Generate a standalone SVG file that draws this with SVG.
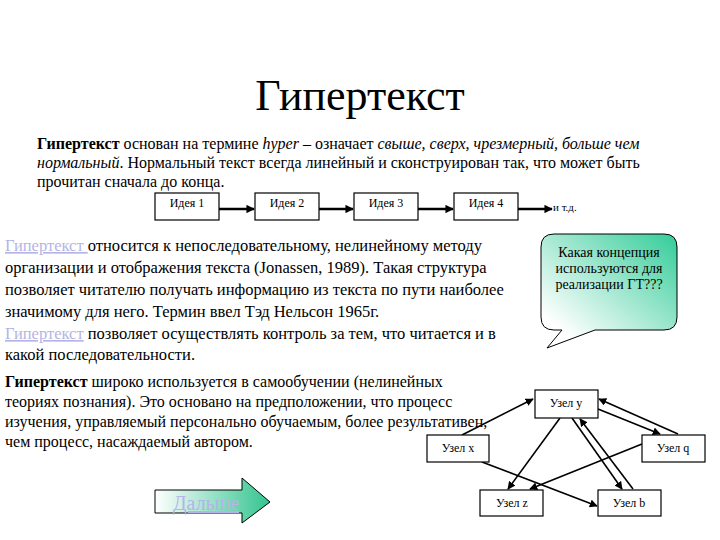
<svg xmlns="http://www.w3.org/2000/svg" width="720" height="540" viewBox="0 0 720 540">
<style>
text{font-family:"Liberation Serif","Times New Roman",serif;fill:#000}
.p{font-size:16px}
.p2{font-size:16.5px}
.lnk{fill:#b4b4e6;text-decoration:underline}
.box{fill:#fff;stroke:#000;stroke-width:1.2}
.lbl{font-size:12px;text-anchor:middle}
.con{stroke:#000;stroke-width:1.6;fill:none;marker-end:url(#ah)}
.con2{stroke:#000;stroke-width:2.4;fill:none;marker-end:url(#ah2)}
</style>
<defs>
<marker id="ah" viewBox="0 0 10 10" refX="9" refY="5" markerWidth="5" markerHeight="5" orient="auto" markerUnits="strokeWidth"><path d="M0,0L10,5L0,10z" fill="#000"/></marker>
<marker id="ah2" viewBox="0 0 10 10" refX="9" refY="5" markerWidth="3.5" markerHeight="3.5" orient="auto" markerUnits="strokeWidth"><path d="M0,0L10,5L0,10z" fill="#000"/></marker>
<linearGradient id="gcall" x1="0" y1="1" x2="1" y2="0">
<stop offset="0.15" stop-color="#ffffff"/><stop offset="1" stop-color="#33cc99"/>
</linearGradient>
<linearGradient id="garr" x1="0" y1="0" x2="1" y2="0">
<stop offset="0" stop-color="#ffffff"/><stop offset="1" stop-color="#33c48f"/>
</linearGradient>
</defs>

<text x="360" y="110" font-size="44" text-anchor="middle">Гипертекст</text>

<g id="para1">
<text x="37" y="149" class="p"><tspan font-weight="bold">Гипертекст</tspan> основан на термине <tspan font-style="italic">hyper</tspan> – означает <tspan font-style="italic">свыше, сверх, чрезмерный, больше чем</tspan></text>
<text x="37" y="168" class="p"><tspan font-style="italic">нормальный</tspan>. Нормальный текст всегда линейный и сконструирован так, что может быть</text>
<text x="37" y="187" class="p">прочитан сначала до конца.</text>
</g>

<g id="idea1"><rect class="box" x="155" y="193" width="64" height="27"/><text class="lbl" x="187" y="207">Идея 1</text></g>
<g id="idea2"><rect class="box" x="255" y="193" width="64" height="27"/><text class="lbl" x="287" y="207">Идея 2</text></g>
<g id="idea3"><rect class="box" x="354" y="193" width="64" height="27"/><text class="lbl" x="386" y="207">Идея 3</text></g>
<g id="idea4"><rect class="box" x="454" y="193" width="64" height="27"/><text class="lbl" x="486" y="207">Идея 4</text></g>
<g id="etc"><text x="553" y="211" font-size="11">и т.д.</text></g>

<g id="para2">
<text x="5" y="251" class="p2"><tspan class="lnk">Гипертекст </tspan>относится к непоследовательному, нелинейному методу</text>
<text x="5" y="273" class="p2">организации и отображения текста (Jonassen, 1989). Такая структура</text>
<text x="5" y="295" class="p2">позволяет читателю получать информацию из текста по пути наиболее</text>
<text x="5" y="317" class="p2">значимому для него. Термин ввел Тэд Нельсон 1965г.</text>
</g>

<g id="para3">
<text x="5" y="339" class="p2"><tspan class="lnk">Гипертекст</tspan> позволяет осуществлять контроль за тем, что читается и в</text>
<text x="5" y="360" class="p2">какой последовательности.</text>
</g>

<g id="para4">
<text x="5" y="387" class="p"><tspan font-weight="bold">Гипертекст</tspan> широко используется в  самообучении (нелинейных</text>
<text x="5" y="407" class="p">теориях  познания). Это основано на предположении, что процесс</text>
<text x="5" y="427" class="p">изучения, управляемый персонально обучаемым, более результативен,</text>
<text x="5" y="447" class="p">чем процесс, насаждаемый автором.</text>
</g>

<g id="callout">
<path d="M554,234H664Q677,234 677,247V317Q677,330 664,330H595L547,348L562,330H554Q541,330 541,317V247Q541,234 554,234Z" fill="url(#gcall)" stroke="#000" stroke-width="1"/>
<text x="609" y="257" font-size="14" text-anchor="middle">Какая концепция</text>
<text x="609" y="273" font-size="14" text-anchor="middle">используются для</text>
<text x="609" y="289" font-size="14" text-anchor="middle">реализации ГТ???</text>
</g>

<g id="connectors">
<line class="con2" x1="219" y1="209" x2="254" y2="209"/>
<line class="con2" x1="319" y1="209" x2="353" y2="209"/>
<line class="con2" x1="418" y1="209" x2="453" y2="209"/>
<line class="con2" x1="518" y1="209" x2="552" y2="209"/>
<line class="con" x1="462" y1="435" x2="533" y2="399"/>
<line class="con" x1="560" y1="418" x2="508" y2="489"/>
<line class="con" x1="572" y1="418" x2="622" y2="489"/>
<line class="con" x1="633" y1="489" x2="580" y2="419"/>
<line class="con" x1="598" y1="409" x2="660" y2="434"/>
<line class="con" x1="678" y1="434" x2="599" y2="399"/>
<line class="con" x1="642" y1="444" x2="530" y2="489"/>
<line class="con" x1="482" y1="462" x2="597" y2="506"/>
</g>

<g id="nodeY"><rect class="box" x="535" y="390" width="63" height="28"/><text class="lbl" x="566" y="407">Узел y</text></g>
<g id="nodeX"><rect class="box" x="427" y="435" width="62" height="27"/><text class="lbl" x="458" y="452">Узел x</text></g>
<g id="nodeQ"><rect class="box" x="642" y="435" width="63" height="27"/><text class="lbl" x="673" y="452">Узел q</text></g>
<g id="nodeZ"><rect class="box" x="480" y="490" width="63" height="26"/><text class="lbl" x="512" y="507">Узел z</text></g>
<g id="nodeB"><rect class="box" x="598" y="490" width="63" height="26"/><text class="lbl" x="629" y="507">Узел b</text></g>

<g id="next">
<path d="M155,490H242V478L270,502L242,523V513H155Z" fill="url(#garr)" stroke="#000" stroke-width="1"/>
<text x="206" y="510" font-size="20" text-anchor="middle" class="lnk">Дальше</text>
</g>
</svg>
